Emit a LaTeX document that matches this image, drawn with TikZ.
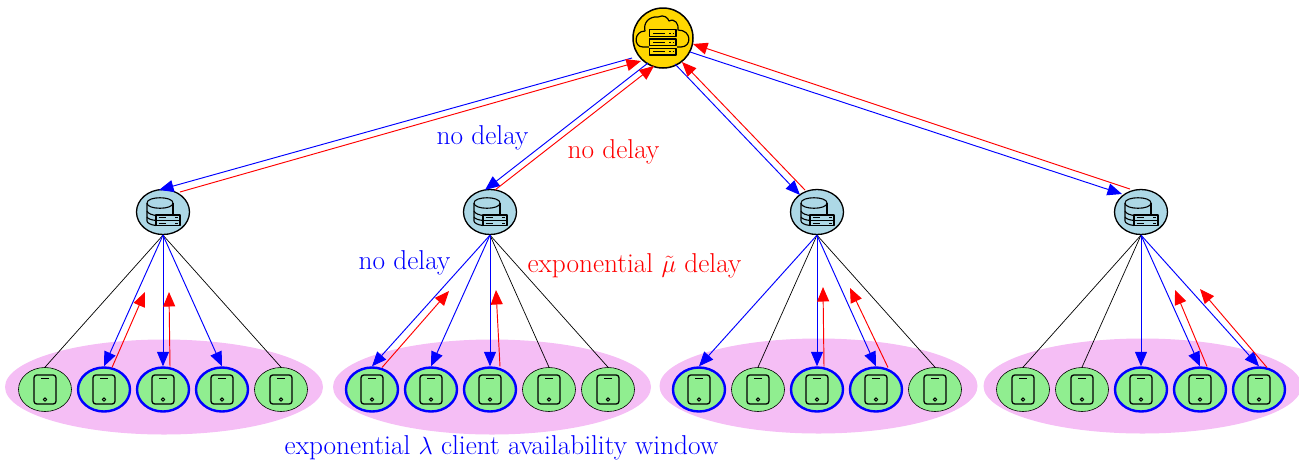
\documentclass[tikz,border=0pt]{standalone}
\usetikzlibrary{arrows.meta,shapes.geometric}
\definecolor{pinkz}{RGB}{245,190,245}
\definecolor{greenz}{RGB}{144,238,144}
\definecolor{bluez}{RGB}{173,216,230}
\definecolor{goldz}{RGB}{255,215,0}
\tikzset{
  cloudnode/.style={circle,draw=black,line width=1.5pt,fill=goldz,minimum size=60pt,inner sep=0pt},
  edgenode/.style={ellipse,draw=black,line width=1.3pt,fill=bluez,minimum width=53pt,minimum height=45pt,inner sep=0pt},
  idle/.style={ellipse,draw=black,line width=0.6pt,fill=greenz,minimum width=53pt,minimum height=44pt,inner sep=0pt},
  active/.style={ellipse,draw={rgb,255:red,0;green,0;blue,255},line width=2.4pt,fill=greenz,minimum width=52pt,minimum height=44pt,inner sep=0pt},
  pool/.style={ellipse,fill=pinkz,minimum width=318pt,minimum height=95pt,inner sep=0pt},
  plain/.style={black,line width=0.7pt},
  bl/.style={blue,line width=0.95pt,-{Triangle[length=14.5pt,width=12pt]}},
  rd/.style={red,line width=0.95pt,-{Triangle[length=14.5pt,width=12pt]}},
  lbl/.style={font=\fontsize{27.3}{30}\selectfont,inner sep=0pt},
  ico/.style={black,line width=1.2pt,line join=round},
  phone/.pic={
    \draw[ico,line width=1.3pt,rounded corners=2.8pt] (-11,-14.5) rectangle (11,14.5);
    \draw[ico,line width=1.1pt] (-4,-11) -- (4,-11);
    \draw[ico,line width=1pt] (0,10) circle (1.7);
  },
  dbase/.pic={
    \draw[ico,line width=1.1pt] (-16,-9) .. controls (-16,-16) and (10,-16) .. (10,-9) .. controls (10,-2) and (-16,-2) .. (-16,-9);
    \draw[ico,line width=1.1pt] (10,-9) -- (10,2);
    \draw[ico,line width=1.1pt] (-16,-9) -- (-16,9) .. controls (-16,11) and (-12,13) .. (-7,13.5);
    \draw[ico,line width=1.1pt] (-16,-1) .. controls (-15,2) and (-10,3) .. (-7,3.5);
    \draw[ico,line width=1.1pt] (-16,5) .. controls (-15,7) and (-11,8) .. (-7,8.5);
    \draw[ico,line width=1.1pt,fill=bluez] (-7,3) rectangle (17,13.5);
    \draw[ico,line width=0.8pt] (-7,8.2) -- (17,8.2);
    \draw[ico,line width=0.8pt] (-4.5,5.6) -- (3,5.6) (-4.5,10.9) -- (3,10.9);
    \draw[ico,line width=0.8pt] (12,5.6) -- (14.5,5.6) (12,10.9) -- (14.5,10.9);
  },
  cloudicon/.pic={
    \draw[ico] (-14,9) -- (-20,9) .. controls (-30,9) and (-29,-7) .. (-18,-7)
      .. controls (-20,-15) and (-14,-22) .. (-5,-21) .. controls (1,-24) and (5,-20) .. (6,-17)
      .. controls (12,-20) and (16,-14) .. (15,-8) .. controls (29,-8) and (29,9) .. (18,9) -- (14,9);
    \foreach \yy in {-8.3,1,10.3}{
      \draw[ico,line width=1.1pt] (-13.7,\yy) rectangle (13,\yy+6.7);
      \draw[ico,line width=0.9pt] (-10,\yy+3.3) -- (2,\yy+3.3) (6,\yy+3.3) -- (7.5,\yy+3.3) (9.5,\yy+3.3) -- (11,\yy+3.3);
    }
  },
}
\newcommand{\cli}[4]{\node[#1] (#2) at (#3,389.5) {}; \pic at (#2) {phone};}
\begin{document}
\begin{tikzpicture}[x=1pt,y=-1pt]
\useasboundingbox (0,0) rectangle (1299,459);
\node[pool] (p1) at (164,387) {};
\node[pool] (p2) at (492,387) {};
\node[pool] (p3) at (818.5,386) {};
\node[pool] (p4) at (1142.5,386) {};
\node[cloudnode] (c) at (663,38) {};
\pic at (c) {cloudicon};
\foreach \nn/\xx in {e1/163,e2/490,e3/817,e4/1141}{
  \node[edgenode] (\nn) at (\xx,212) {};
  \pic at (\nn) {dbase};
}
\cli{idle}{a1}{45}{}
\cli{active}{a2}{104}{}
\cli{active}{a3}{163}{}
\cli{active}{a4}{222}{}
\cli{idle}{a5}{281}{}
\cli{active}{b1}{372}{}
\cli{active}{b2}{431}{}
\cli{active}{b3}{490}{}
\cli{idle}{b4}{549}{}
\cli{idle}{b5}{608}{}
\cli{active}{d1}{699}{}
\cli{idle}{d2}{758}{}
\cli{active}{d3}{817}{}
\cli{active}{d4}{876}{}
\cli{idle}{d5}{935}{}
\cli{idle}{f1}{1023}{}
\cli{idle}{f2}{1082}{}
\cli{active}{f3}{1141}{}
\cli{active}{f4}{1200}{}
\cli{active}{f5}{1259}{}
% cloud to edge
\draw[bl] ([shift={(-31,20)}]c.center) -- ([shift={(-4,-22)}]e1.center);
\draw[rd] ([shift={(17,-20)}]e1.center) -- ([shift={(-22,23)}]c.center);
\draw[bl] ([shift={(-15,25)}]c.center) -- ([shift={(-5,-22)}]e2.center);
\draw[rd] ([shift={(5,-22)}]e2.center) -- ([shift={(-9,28)}]c.center);
\draw[bl] ([shift={(12,26)}]c.center) -- ([shift={(-17,-17)}]e3.center);
\draw[rd] ([shift={(-12,-22)}]e3.center) -- ([shift={(19,24)}]c.center);
\draw[bl] ([shift={(27,14)}]c.center) -- ([shift={(-19,-18)}]e4.center);
\draw[rd] ([shift={(-11,-23)}]e4.center) -- ([shift={(30,6)}]c.center);
% edge to clients
\foreach \e/\t in {e1/a1,e1/a5,e2/b4,e2/b5,e3/d2,e3/d5,e4/f1,e4/f2}{
  \draw[plain] (\e.south) -- (\t.north);
}
\foreach \e/\t in {e1/a2,e1/a3,e1/a4,e2/b1,e2/b2,e2/b3,e3/d1,e3/d3,e3/d4,e4/f3,e4/f4,e4/f5}{
  \draw[bl] (\e.south) -- (\t.north);
}
\coordinate (r1) at (145,292);
\coordinate (r2) at (169,292);
\coordinate (r3) at (449,291);
\coordinate (r4) at (496,290);
\coordinate (r5) at (823,287);
\coordinate (r6) at (850,288);
\coordinate (r7) at (1175,290);
\coordinate (r8) at (1200,289);
\draw[rd] ([shift={(8,-22)}]a2.center) -- (r1);
\draw[rd] ([shift={(7,-23)}]a3.center) -- (r2);
\draw[rd] ([shift={(10,-22)}]b1.center) -- (r3);
\draw[rd] ([shift={(10,-23)}]b3.center) -- (r4);
\draw[rd] ([shift={(7,-23)}]d3.center) -- (r5);
\draw[rd] ([shift={(12,-22)}]d4.center) -- (r6);
\draw[rd] ([shift={(7,-23)}]f4.center) -- (r7);
\draw[rd] ([shift={(8,-22)}]f5.center) -- (r8);
\node[lbl,text=blue] (t1) at (482.5,138) {no delay};
\node[lbl,text=red] (t2) at (613.5,152) {no delay};
\node[lbl,text=blue] (t3) at (404.5,263) {no delay};
\node[lbl,text=red] (t4) at (634.5,266) {exponential $\tilde{\mu}$ delay};
\node[lbl,text=blue] (t5) at (501.5,448) {exponential $\lambda$ client availability window};
\end{tikzpicture}
\end{document}
